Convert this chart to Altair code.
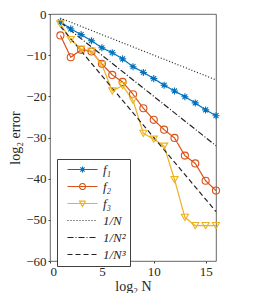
import altair as alt
import pandas as pd

# ---- data ----
N = list(range(1, 17))
f1 = [-1.9, -3.6, -5.0, -6.5, -8.2, -9.4, -10.9, -12.8, -14.2, -15.7, -17.3, -18.7, -20.1, -21.6, -23.3, -24.7]
f2 = [-5.2, -10.5, -8.7, -9.1, -12.1, -14.8, -16.5, -19.5, -22.9, -25.7, -28.1, -30.1, -34.4, -36.3, -40.5, -42.9]
f3 = [-2.4, -6.2, -8.5, -9.0, -12.3, -18.7, -17.4, -21.0, -29.0, -30.4, -32.1, -40.2, -49.4, -51.4, -51.4, -51.4]
ref_x = [1, 16]
r1 = [-1, -16]
r2 = [-2, -32]
r3 = [-3, -48]

series_names = ["f₁", "f₂", "f₃", "1/N", "1/N²", "1/N³"]
colors = ["#0072BD", "#D95319", "#EDB120", "#222222", "#222222", "#222222"]
dashes = [[1, 0], [1, 0], [1, 0], [1, 2], [6, 2, 1, 2], [5, 3]]
x_ticks = [0, 5, 10, 15]
y_ticks = [-60, -50, -40, -30, -20, -10, 0]

rows = []
for name, ys in zip(series_names[:3], [f1, f2, f3]):
    for x, y in zip(N, ys):
        rows.append({"series": name, "x": x, "y": y})
for name, ys in zip(series_names[3:], [r1, r2, r3]):
    for x, y in zip(ref_x, ys):
        rows.append({"series": name, "x": x, "y": y})
df = pd.DataFrame(rows)

FONT = "Liberation Serif"

# legend glyphs: a line with the marker in its middle (units scaled by sqrt(size)/2)
line = "M0,0H10"
asterisk = "M5,-1V1M4,0H6M4.3,-0.7L5.7,0.7M4.3,0.7L5.7,-0.7"
circle = "M4,0A1,1 0 1,0 6,0A1,1 0 1,0 4,0"
tri = "M4,-0.8H6L5,1Z"
legend_shapes = [line + asterisk, line + circle, line + tri, line, line, line]

xs = alt.Scale(domain=[0, 16], nice=False, zero=False)
ys_ = alt.Scale(domain=[-60, 0], nice=False, zero=False)
color_scale = alt.Scale(domain=series_names, range=colors)
dash_scale = alt.Scale(domain=series_names, range=dashes)

axis_common = dict(
    grid=False, domain=False, tickSize=2, tickColor="#404040", labelOverlap=False,
    labelFont=FONT, labelFontSize=13, labelColor="#262626",
    titleFont=FONT, titleFontSize=14, titleFontWeight="normal", titleColor="#262626",
)

x_main = alt.X("x:Q", scale=xs, axis=alt.Axis(values=x_ticks, title="log₂ N", labelPadding=2,
                                               titlePadding=1, **axis_common))
y_main = alt.Y("y:Q", scale=ys_, axis=alt.Axis(values=y_ticks, title="log₂ error", labelPadding=2,
                                                titlePadding=3, **axis_common))

base = alt.Chart(df)

lines = base.mark_line(strokeWidth=1.2).encode(
    x=x_main, y=y_main,
    color=alt.Color("series:N", scale=color_scale, legend=None),
    strokeDash=alt.StrokeDash("series:N", scale=dash_scale, legend=None),
    detail="series:N",
)

marker_defs = [("f₁", "M0,-1V1M-1,0H1M-0.7,-0.7L0.7,0.7M-0.7,0.7L0.7,-0.7", colors[0]),
               ("f₂", "circle", colors[1]),
               ("f₃", "triangle-down", colors[2])]
point_layers = []
for name, shp, col in marker_defs:
    point_layers.append(
        base.transform_filter(alt.datum.series == name).mark_point(
            shape=shp, size=50, filled=False, color=col, strokeWidth=1.1, opacity=1
        ).encode(x=alt.X("x:Q", scale=xs), y=alt.Y("y:Q", scale=ys_))
    )

legend_layer = base.mark_point(filled=False, opacity=0).encode(
    x=alt.X("x:Q", scale=xs),
    y=alt.Y("y:Q", scale=ys_),
    color=alt.Color("series:N", scale=color_scale, legend=alt.Legend(title=None)),
    shape=alt.Shape("series:N", scale=alt.Scale(domain=series_names, range=legend_shapes),
                    legend=alt.Legend(title=None)),
    strokeDash=alt.StrokeDash("series:N", scale=dash_scale, legend=alt.Legend(title=None)),
)

chart = alt.layer(lines, *point_layers, legend_layer).resolve_scale(
    color="independent", strokeDash="independent", shape="independent"
).properties(
    width=236, height=285, padding={"left": 0, "top": 0, "right": 0, "bottom": 0},
    autosize=alt.AutoSizeParams(type="fit", contains="padding"),
).configure_view(
    stroke="#404040", strokeWidth=0.8
).configure_legend(
    orient="none", legendX=7, legendY=145,
    symbolSize=36, symbolStrokeWidth=1.1, symbolOpacity=1,
    labelFont=FONT, labelFontSize=13, labelFontStyle="italic", labelColor="#262626",
    labelOffset=29, rowPadding=3, padding=4,
    strokeColor="#404040", fillColor="white", cornerRadius=0,
)

chart.save("out.html", embed_options={"renderer": "svg", "actions": False})
